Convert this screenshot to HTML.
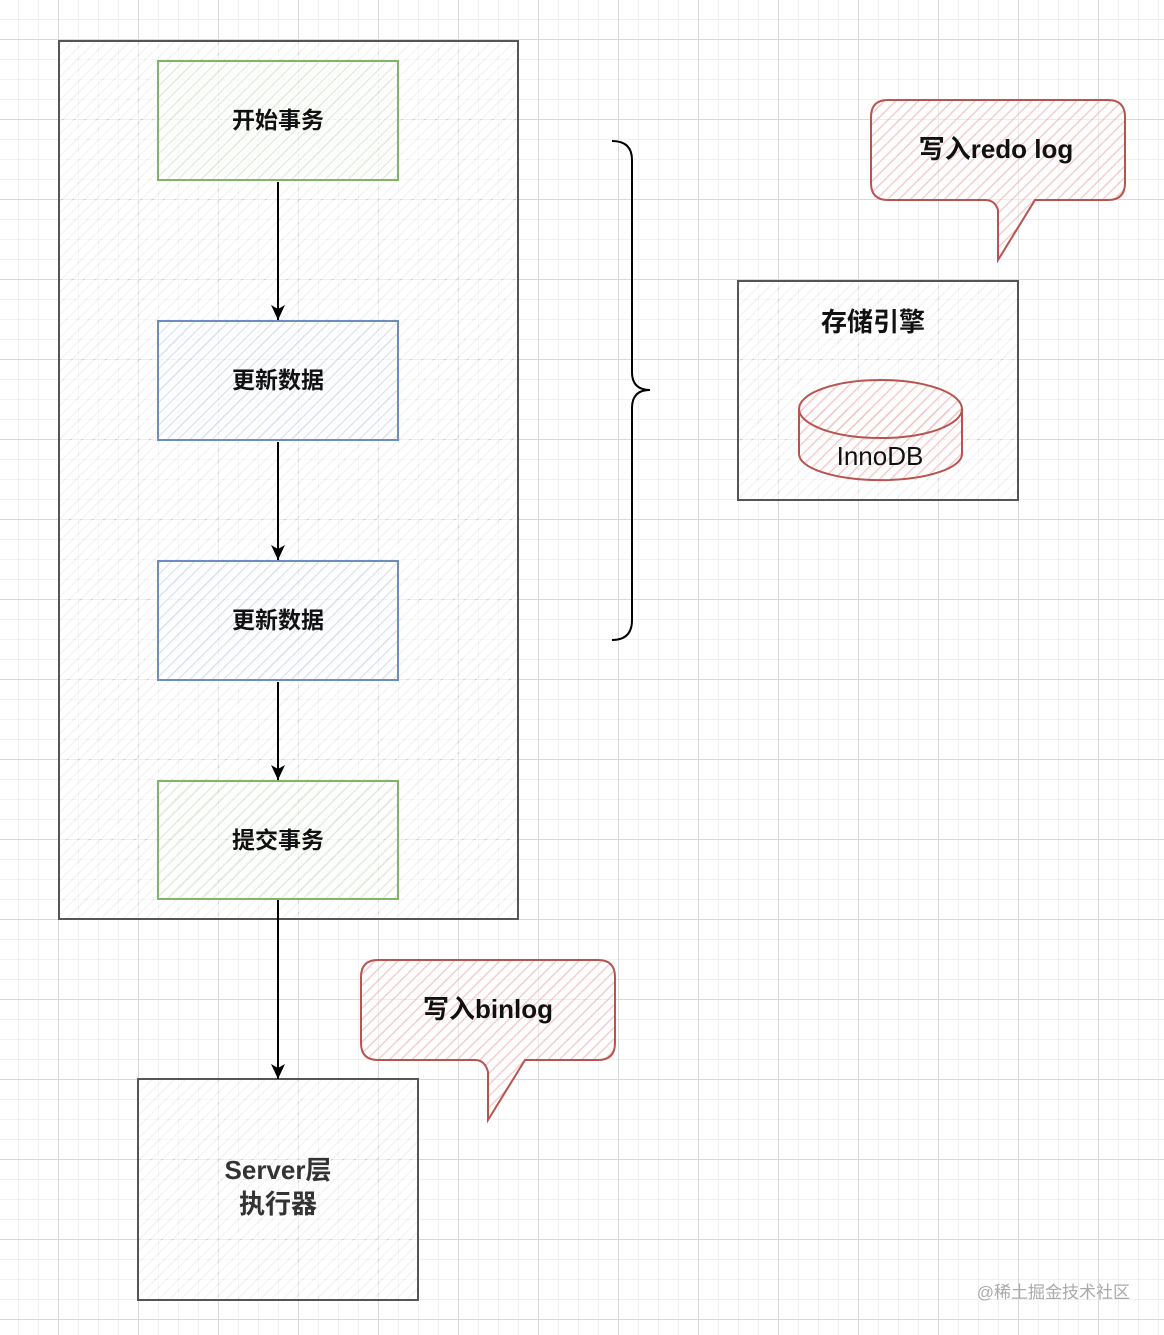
<!DOCTYPE html>
<html><head><meta charset="utf-8"><style>
body{margin:0;width:1164px;height:1335px;position:relative;overflow:hidden;font-family:"Liberation Sans","Noto Sans CJK SC",sans-serif;
background-color:#fff;
background-image:linear-gradient(#d8d8d8 1px,transparent 1px),linear-gradient(90deg,#d8d8d8 1px,transparent 1px),linear-gradient(#f0f0f0 1px,transparent 1px),linear-gradient(90deg,#f0f0f0 1px,transparent 1px);
background-size:80px 80px,80px 80px,20px 20px,20px 20px;background-position:-22px 39px,58px -22px,0 -1px,-2px 0;}
.b{position:absolute;box-sizing:border-box;display:flex;align-items:center;justify-content:center;font-weight:bold;font-size:23px;color:#111;text-align:center;padding-bottom:5px;}
.g{border:2px solid #82b366;background:repeating-linear-gradient(135deg,rgba(130,179,102,.22) 0 1.5px,rgba(255,255,255,.6) 1.5px 8px);}
.bl{border:2px solid #6c8ebf;background:repeating-linear-gradient(135deg,rgba(108,142,191,.22) 0 1.5px,rgba(255,255,255,.6) 1.5px 8px);}
.k{border:2.5px solid #555;background:repeating-linear-gradient(135deg,rgba(0,0,0,.04) 0 1.5px,rgba(255,255,255,.6) 1.5px 8px);}
</style></head><body>
<div class="b k" style="left:58px;top:40px;width:461px;height:880px"></div>
<div class="b g" style="left:157px;top:60px;width:242px;height:121px">开始事务</div>
<div class="b bl" style="left:157px;top:320px;width:242px;height:121px">更新数据</div>
<div class="b bl" style="left:157px;top:560px;width:242px;height:121px">更新数据</div>
<div class="b g" style="left:157px;top:780px;width:242px;height:120px">提交事务</div>
<div class="b k" style="left:737px;top:280px;width:282px;height:221px;align-items:flex-start;padding-top:20px;font-size:26px;padding-right:10px">存储引擎</div>
<div class="b k" style="left:137px;top:1078px;width:282px;height:223px;font-size:26px;line-height:34px;color:#333">Server层<br>执行器</div>
<svg width="1164" height="1335" style="position:absolute;left:0;top:0">
<defs><pattern id="rp" width="8" height="8" patternUnits="userSpaceOnUse" patternTransform="rotate(45)"><rect width="8" height="8" fill="#fff" fill-opacity=".5"/><rect width="1.5" height="8" fill="#e8a0a0" fill-opacity=".5"/></pattern>
<marker id="a" markerWidth="16" markerHeight="16" refX="15" refY="7" orient="auto" markerUnits="userSpaceOnUse"><path d="M0,0 L15,7 L0,14 L4,7z" fill="#000"/></marker></defs>
<g stroke="#000" stroke-width="2" marker-end="url(#a)">
<line x1="278" y1="182" x2="278" y2="320"/><line x1="278" y1="442" x2="278" y2="560"/><line x1="278" y1="682" x2="278" y2="780"/><line x1="278" y1="900" x2="278" y2="1079"/></g>
<path d="M612,141 Q632,141 632,160 L632,372 Q632,390 650,390 Q632,390 632,408 L632,620 Q632,640 612,640" fill="none" stroke="#000" stroke-width="2"/>
<path d="M888,100 L1108,100 Q1125,100 1125,117 L1125,183 Q1125,200 1108,200 L1035,200 L998,260 L998,210 Q995,200 985,200 L888,200 Q871,200 871,183 L871,117 Q871,100 888,100z" fill="url(#rp)" stroke="#b85450" stroke-width="2"/>
<text x="996" y="158" text-anchor="middle" font-weight="bold" font-size="26" fill="#111">写入redo log</text>
<path d="M378,960 L598,960 Q615,960 615,977 L615,1043 Q615,1060 598,1060 L525,1060 L488,1120 L488,1072 Q485,1060 475,1060 L378,1060 Q361,1060 361,1043 L361,977 Q361,960 378,960z" fill="url(#rp)" stroke="#b85450" stroke-width="2"/>
<text x="488" y="1018" text-anchor="middle" font-weight="bold" font-size="26" fill="#111">写入binlog</text>
<path d="M799,409 L799,454 A81,26 0 0 0 962,454 L962,409" fill="url(#rp)" stroke="#b85450" stroke-width="2"/>
<ellipse cx="880.5" cy="409" rx="81.5" ry="29" fill="url(#rp)" stroke="#b85450" stroke-width="2"/>
<text x="880" y="465" text-anchor="middle" font-size="26" fill="#111">InnoDB</text>
<text x="1130" y="1298" text-anchor="end" font-size="17" fill="#aaa">@稀土掘金技术社区</text>
</svg>
</body></html>
